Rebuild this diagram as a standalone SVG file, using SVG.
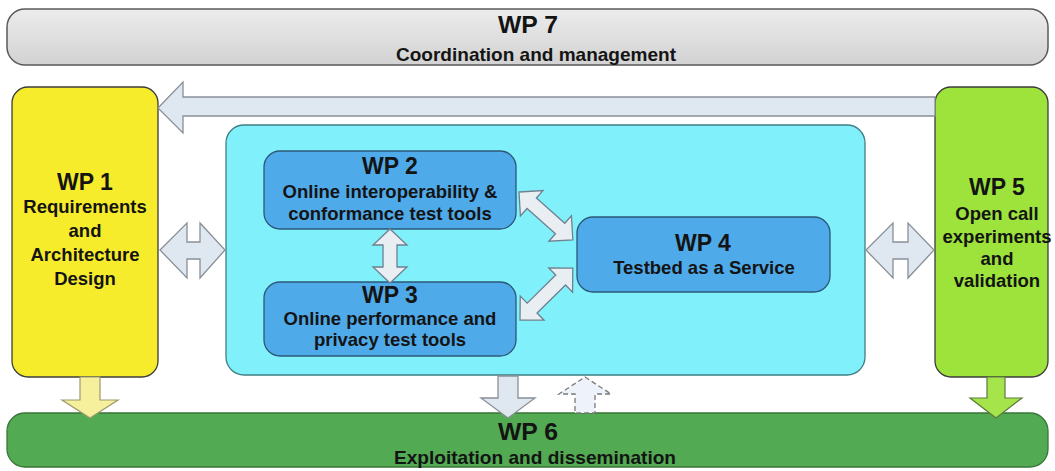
<svg xmlns="http://www.w3.org/2000/svg" width="1055" height="471" viewBox="0 0 1055 471">
  <defs>
    <linearGradient id="gGray" x1="0" y1="0" x2="0" y2="1">
      <stop offset="0" stop-color="#ececec"/>
      <stop offset="1" stop-color="#d2d2d2"/>
    </linearGradient>
    <style>
      text { font-family: "Liberation Sans", Arial, sans-serif; font-weight: bold; fill: #141414; text-anchor: middle; }
      .h { font-size: 23px; }
      .b { font-size: 18.5px; }
      .band { stroke: #5a5a5a; stroke-width: 1.5; }
      .box { stroke: #3c3c3c; stroke-width: 1.3; }
      .wp { fill: #4faaea; stroke: #2b5878; stroke-width: 1.3; }
      .arr { fill: #dfe8f0; stroke: #8a8f96; stroke-width: 1.3; stroke-linejoin: miter; }
      .arrw { fill: #e9eef3; stroke: #6f8090; stroke-width: 1.3; }
    </style>
  </defs>

  <!-- WP 7 band -->
  <g id="wp7">
    <rect class="band" x="7" y="9" width="1041" height="56" rx="18" fill="url(#gGray)"/>
    <text x="528" y="33" style="font-size:24px" textLength="60" lengthAdjust="spacingAndGlyphs">WP 7</text>
    <text x="536" y="61" style="font-size:19px" textLength="280" lengthAdjust="spacingAndGlyphs">Coordination and management</text>
  </g>

  <!-- WP 1 -->
  <g id="wp1">
    <rect class="box" x="12" y="87" width="146" height="290" rx="16" fill="#f6ec2c"/>
    <text class="h" x="85" y="190">WP 1</text>
    <text class="b" x="85" y="213">Requirements</text>
    <text class="b" x="85" y="237">and</text>
    <text class="b" x="85" y="261">Architecture</text>
    <text class="b" x="85" y="285">Design</text>
  </g>

  <!-- Central container -->
  <g id="core">
    <rect x="226" y="125" width="639" height="250" rx="18" fill="#80f0fa" stroke="#3f7f86" stroke-width="1.3"/>
  </g>

  <!-- WP 2 -->
  <g id="wp2">
    <rect class="wp" x="264" y="151" width="252" height="78" rx="16"/>
    <text class="h" x="390" y="174">WP 2</text>
    <text class="b" x="390" y="198">Online interoperability &amp;</text>
    <text class="b" x="390" y="220">conformance test tools</text>
  </g>

  <!-- WP 3 -->
  <g id="wp3">
    <rect class="wp" x="264" y="282" width="252" height="74" rx="16"/>
    <text class="h" x="390" y="303">WP 3</text>
    <text class="b" x="390" y="325">Online performance and</text>
    <text class="b" x="390" y="346">privacy test tools</text>
  </g>

  <!-- WP 4 -->
  <g id="wp4">
    <rect class="wp" x="577" y="217" width="253" height="75" rx="16"/>
    <text class="h" x="703" y="251">WP 4</text>
    <text class="b" x="704" y="274">Testbed as a Service</text>
  </g>

  <!-- WP 5 -->
  <g id="wp5">
    <rect class="box" x="935" y="87" width="113" height="290" rx="16" fill="#9de33b"/>
    <text class="h" x="997" y="195">WP 5</text>
    <text class="b" x="997" y="220">Open call</text>
    <text class="b" x="997" y="243">experiments</text>
    <text class="b" x="997" y="265">and</text>
    <text class="b" x="997" y="287">validation</text>
  </g>

  <!-- WP 6 band -->
  <g id="wp6">
    <rect x="7" y="413" width="1041" height="54" rx="18" fill="#52aa52" stroke="#3a763a" stroke-width="1.3"/>
    <text x="528" y="440" style="font-size:24px" textLength="60" lengthAdjust="spacingAndGlyphs">WP 6</text>
    <text x="535" y="464" style="font-size:19px" textLength="282" lengthAdjust="spacingAndGlyphs">Exploitation and dissemination</text>
  </g>

  <!-- Connectors -->
  <g id="connectors">
    <!-- WP5 feedback to WP1 -->
    <polygon class="arr" points="158,108 183,82 183,97 935,97 935,116 183,116 183,133"/>
    <!-- WP1 <-> core -->
    <polygon class="arr" points="160,250 187,223 187,242 200,242 200,223 225,250 200,278 200,259 187,259 187,278"/>
    <!-- core <-> WP5 -->
    <polygon class="arr" points="866,250 893,223 893,242 908,242 908,223 934,250 908,278 908,259 893,259 893,278"/>
    <!-- WP2 <-> WP3 -->
    <polygon class="arrw" points="390,229 407,245 397,245 397,267 407,267 390,283 373,267 383,267 383,245 373,245"/>
    <!-- WP2 <-> WP4 -->
    <polygon class="arrw" transform="translate(519,192) rotate(41.6)" points="0,0 17,-17 17,-7 55,-7 55,-17 72,0 55,17 55,7 17,7 17,17"/>
    <!-- WP3 <-> WP4 -->
    <polygon class="arrw" transform="translate(520,320) rotate(-44.5)" points="0,0 17,-17 17,-7 57,-7 57,-17 74,0 57,17 57,7 17,7 17,17"/>
    <!-- Down arrows into WP6 -->
    <polygon points="80,377 100,377 100,400 118,400 90,418 62,400 80,400" fill="#f6f09c" stroke="#9a9a70" stroke-width="1.2"/>
    <polygon class="arr" points="498,376 518,376 518,398 535,398 508,418 481,398 498,398"/>
    <polygon points="987,377 1005,377 1005,398 1022,398 996,418 970,398 987,398" fill="#a6e44c" stroke="#5a7a3a" stroke-width="1.2"/>
    <!-- Dashed feedback up into core -->
    <polygon points="585,377 611,394 595,394 595,413 575,413 575,394 559,394" fill="#eef2fa" stroke="#7a7a7a" stroke-width="1.3" stroke-dasharray="5,3"/>
  </g>
</svg>
